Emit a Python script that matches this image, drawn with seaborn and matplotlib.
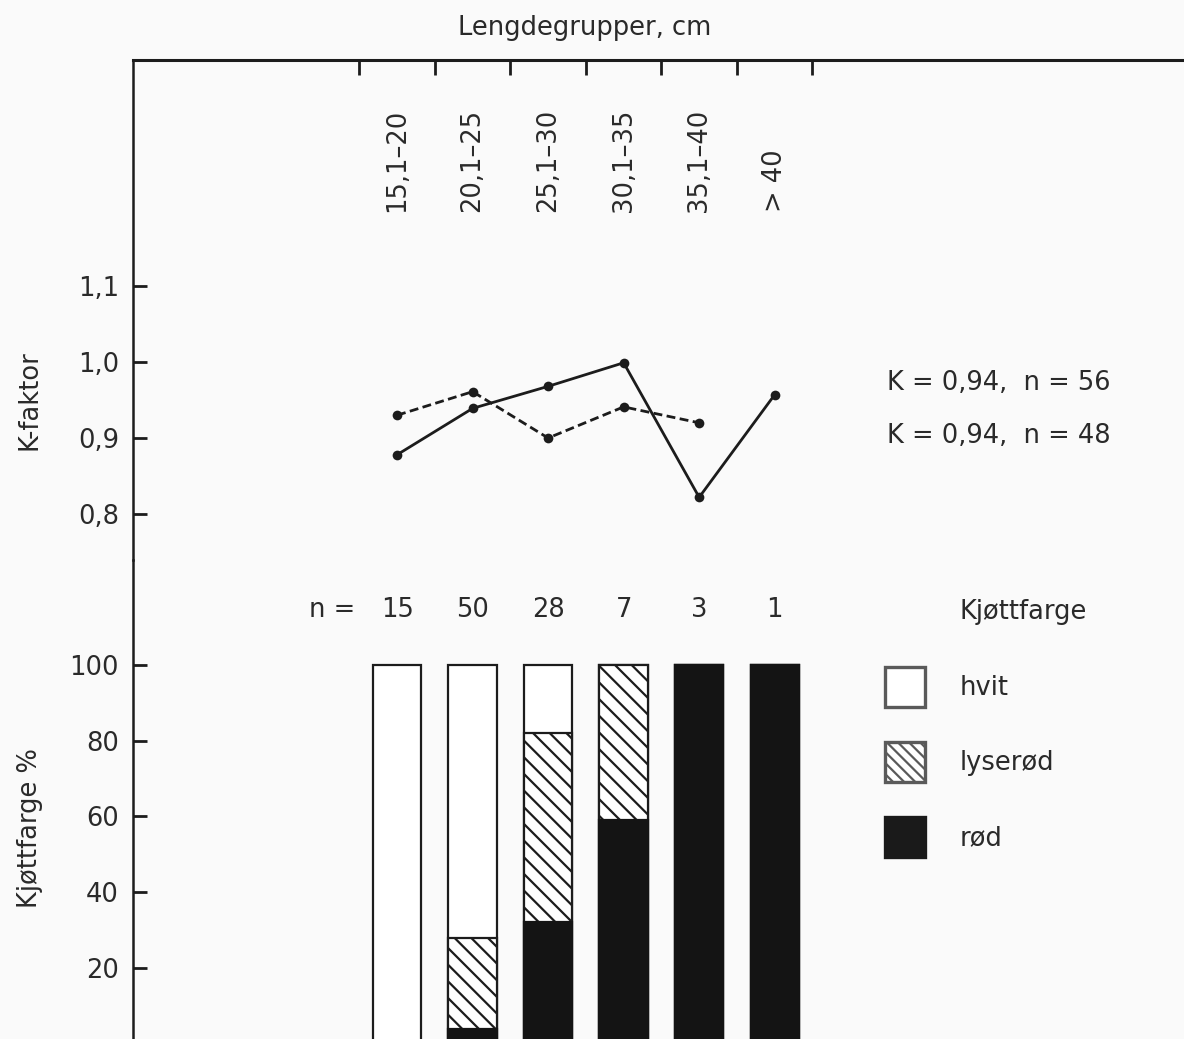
import numpy as np
import pandas as pd
import seaborn as sns
import matplotlib.pyplot as plt
from matplotlib.patches import Patch

# lengdegrupper og antall fisk
grupper = ['15,1–20', '20,1–25', '25,1–30', '30,1–35', '35,1–40', '> 40']
antall = [15, 50, 28, 7, 3, 1]

# K-faktor, heltrukken og stiplet linje
k_hel = [0.878, 0.939, 0.968, 0.999, 0.822, 0.957]
k_stipla = [0.930, 0.961, 0.900, 0.941, 0.920]
k_tekst = ['K = 0,94,  n = 56', 'K = 0,94,  n = 48']

# kjøttfarge i prosent
hvit = [100.0, 72.0, 17.9, 0.0, 0.0, 0.0]
lyserod = [0.0, 24.0, 50.0, 41.0, 0.0, 0.0]
rod = [0.0, 4.0, 32.1, 59.0, 100.0, 100.0]

sns.set_style('ticks')
plt.rcParams['font.family'] = ['DejaVu Sans']
plt.rcParams['hatch.linewidth'] = 1.6
plt.rcParams['hatch.color'] = 'black'
ink = '#1c1c1c'
txt = '#2a2a2a'
fs = 18.5

W, H = 1184, 1039
fig = plt.figure(figsize=(W / 100, H / 100), dpi=100, facecolor='#fafafa')


def box(top, bottom):
    return [133 / W, 1 - bottom / H, 1 - 133 / W, (bottom - top) / H]


ax_k = fig.add_axes(box(60, 560))
ax_p = fig.add_axes(box(560, 1039))
for ax in (ax_k, ax_p):
    ax.set_facecolor('none')

# K-faktor linjer
df_k = pd.DataFrame({
    'pos': list(range(len(k_hel))) + list(range(len(k_stipla))),
    'K': k_hel + k_stipla,
    'serie': ['hel'] * len(k_hel) + ['stipla'] * len(k_stipla),
})
sns.lineplot(data=df_k, x='pos', y='K', style='serie', color=ink,
             markers={'hel': 'o', 'stipla': 'o'},
             dashes={'hel': '', 'stipla': (3.2, 1.6)},
             linewidth=2.0, markersize=7, markeredgewidth=0,
             legend=False, ax=ax_k)

xlim = (-3.497, 10.42)
ax_k.set_xlim(*xlim)
ax_k.set_ylim(0.7395, 1.3974)
ax_k.set_xlabel('')
ax_k.xaxis.set_ticks_position('top')
ax_k.set_xticks(np.arange(-0.5, len(grupper), 1))
ax_k.set_xticklabels([])
ax_k.tick_params(axis='x', direction='in', length=11, width=2, color=ink)
ax_k.set_yticks([0.8, 0.9, 1.0, 1.1])
ax_k.set_yticklabels(['0,8', '0,9', '1,0', '1,1'])
ax_k.tick_params(axis='y', direction='in', length=10, width=2, color=ink,
                 labelsize=fs, labelcolor=txt, pad=10)
ax_k.set_ylabel('K-faktor', fontsize=fs, color=txt)
ax_k.yaxis.set_label_coords(-0.086, 0.32)
for s in ('right', 'bottom'):
    ax_k.spines[s].set_visible(False)
ax_k.spines['top'].set_linewidth(2.2)
ax_k.spines['left'].set_linewidth(1.8)
for s in ('top', 'left'):
    ax_k.spines[s].set_color(ink)

for i, g in enumerate(grupper):
    ax_k.text(i, 1.197, g, rotation=90, ha='center', va='bottom',
              fontsize=fs, color=txt)
for j, t in enumerate(k_tekst):
    ax_k.text(6.49, [0.972, 0.903][j], t, ha='left', va='center',
              fontsize=fs, color=txt)

# stablede søyler for kjøttfarge
lr = [a + b for a, b in zip(lyserod, rod)]
tot = [a + b for a, b in zip(hvit, lr)]
kw = dict(width=0.64, saturation=1, linewidth=1.6, errorbar=None, ax=ax_p)
sns.barplot(x=grupper, y=tot, color='white', edgecolor=ink, **kw)
n0 = len(ax_p.patches)
sns.barplot(x=grupper, y=lr, color='white', edgecolor=ink, **kw)
for p in ax_p.patches[n0:]:
    p.set_hatch('\\\\')
sns.barplot(x=grupper, y=rod, color='#141414', edgecolor='#141414', **kw)

ax_p.set_xlim(*xlim)
ax_p.set_ylim(1.25, 127.72)
ax_p.set_xlabel('')
ax_p.tick_params(axis='x', bottom=False, labelbottom=False)
ax_p.set_yticks([20, 40, 60, 80, 100])
ax_p.tick_params(axis='y', direction='in', length=10, width=2, color=ink,
                 labelsize=fs, labelcolor=txt, pad=10)
ax_p.set_ylabel('Kjøttfarge %', fontsize=fs, color=txt)
ax_p.yaxis.set_label_coords(-0.086, 0.44)
for s in ('right', 'bottom', 'top'):
    ax_p.spines[s].set_visible(False)
ax_p.spines['left'].set_linewidth(1.8)
ax_p.spines['left'].set_color(ink)

ax_p.text(-0.556, 114.5, 'n =', ha='right', va='center', fontsize=fs, color=txt)
for i, n in enumerate(antall):
    ax_p.text(i, 114.5, str(n), ha='center', va='center', fontsize=fs, color=txt)

handles = [
    Patch(facecolor='white', edgecolor='#5a5a5a', linewidth=2.4, label='hvit'),
    Patch(facecolor='white', edgecolor='#5a5a5a', linewidth=2.4, hatch='\\\\\\',
          label='lyserød'),
    Patch(facecolor='#1a1a1a', edgecolor='#1a1a1a', linewidth=2.4, label='rød'),
]
leg = ax_p.legend(handles=handles, loc='upper left',
                  bbox_to_anchor=(885 / W, 1 - 667 / H),
                  bbox_transform=fig.transFigure, frameon=False,
                  handlelength=1.56, handleheight=2.02, labelspacing=1.36,
                  handletextpad=1.36, borderpad=0, borderaxespad=0,
                  fontsize=fs)
for t in leg.get_texts():
    t.set_color(txt)
fig.text(960 / W, 1 - 612 / H, 'Kjøttfarge', ha='left', va='center',
         fontsize=fs, color=txt)

fig.text(585 / W, 1 - 28 / H, 'Lengdegrupper, cm', ha='center', va='center',
         fontsize=fs, color=txt)

fig.savefig('out.png', dpi=100, facecolor=fig.get_facecolor())
